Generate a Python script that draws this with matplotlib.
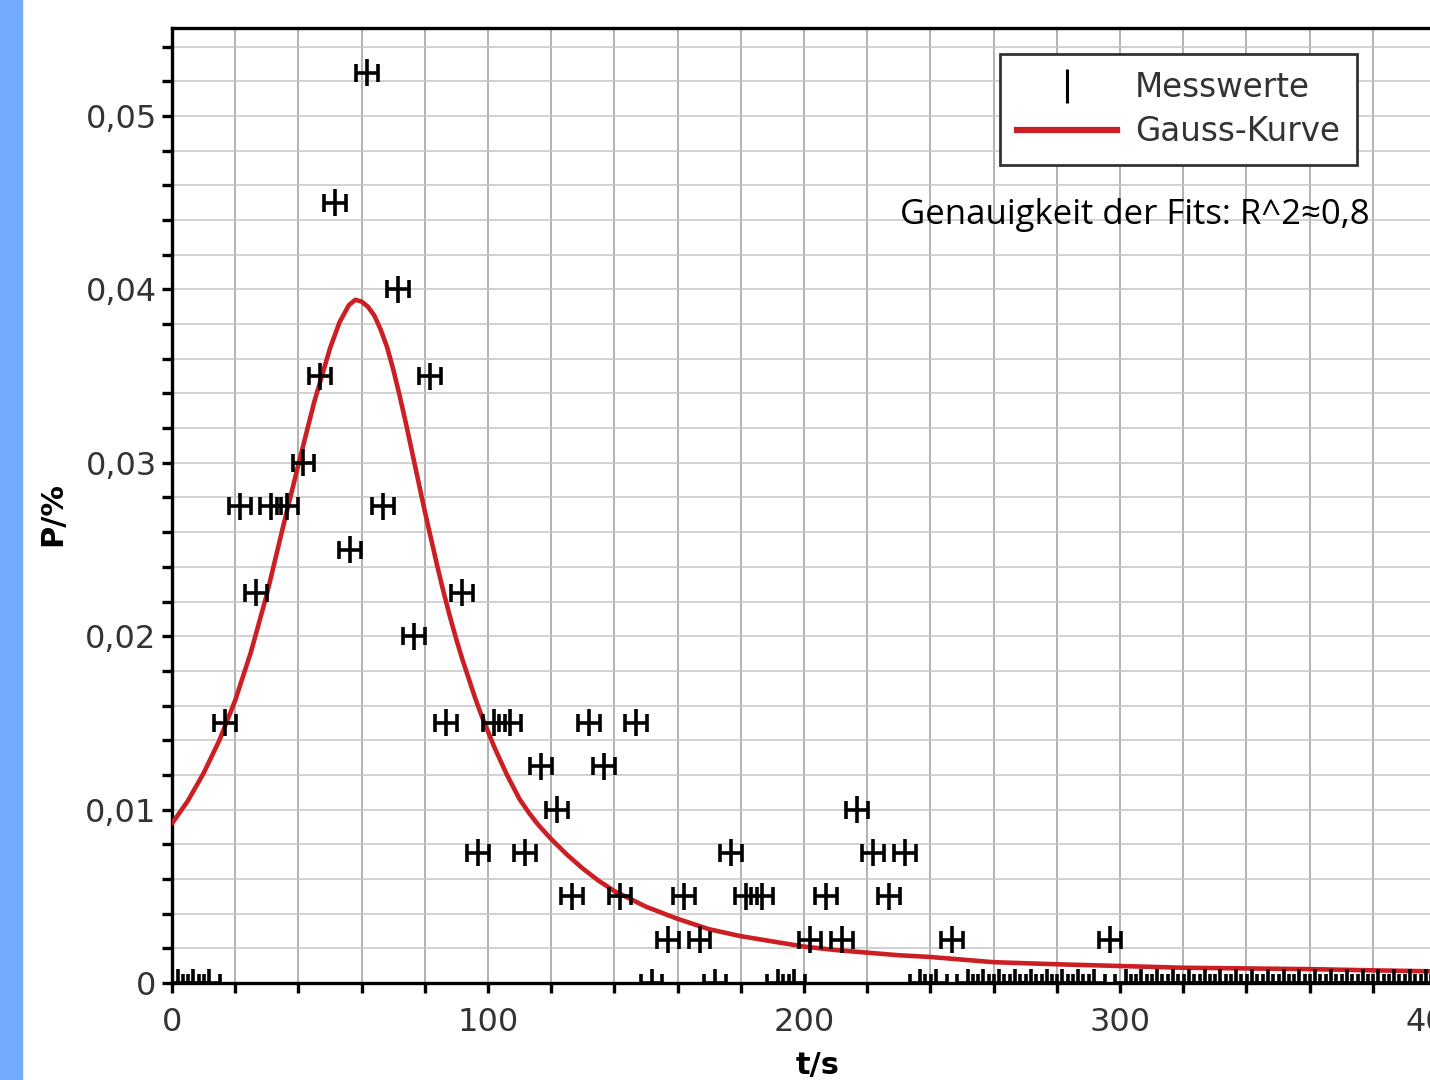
import numpy as np
import matplotlib
matplotlib.use("Agg")
import matplotlib.pyplot as plt
from matplotlib.lines import Line2D
from matplotlib.patches import Rectangle
from matplotlib.ticker import MultipleLocator, FuncFormatter

# Messwerte (t in s, P in %)
t_mess = [61.7, 51.6, 71.5, 46.8, 81.6, 41.6, 21.5, 31.2, 36.5, 66.8,
          56.3, 26.6, 91.8, 76.6, 16.8, 86.7, 101.9, 107.0, 132.0, 146.8,
          116.8, 136.7, 121.8, 216.8, 96.8, 111.7, 176.9, 221.8, 232.0, 126.6,
          141.8, 162.0, 181.6, 186.7, 207.0, 226.9, 157.0, 167.0, 201.9, 212.0,
          246.8, 296.8]
p_mess = [0.0525, 0.045, 0.040, 0.035, 0.035, 0.030, 0.0275, 0.0275, 0.0275, 0.0275,
          0.025, 0.0225, 0.0225, 0.020, 0.015, 0.015, 0.015, 0.015, 0.015, 0.015,
          0.0125, 0.0125, 0.010, 0.010, 0.0075, 0.0075, 0.0075, 0.0075, 0.0075, 0.005,
          0.005, 0.005, 0.005, 0.005, 0.005, 0.005, 0.0025, 0.0025, 0.0025, 0.0025,
          0.0025, 0.0025]

# Messwerte mit P = 0
t_null = [1.8, 6.8, 11.8, 151.8, 171.8, 191.8, 196.8,
          236.8, 241.8, 251.8, 256.8, 261.8, 266.8, 271.8, 276.8, 281.8, 286.8,
          291.8, 301.8, 306.8, 311.8, 316.8, 321.8, 326.8, 331.8, 336.8, 341.8,
          346.8, 351.8, 356.8, 361.8, 366.8, 371.8, 376.8, 381.8, 386.8, 391.8,
          396.8, 401.8, 406.8]
p_null = [0.0] * len(t_null)

t_fehler = 3.4
p_fehler = 0.00078

# Gauss-Kurve
t_fit = [0, 5, 10, 15, 20, 25, 30, 35, 40, 45, 50, 53, 56, 58, 60, 62, 64, 66,
         68, 70, 72, 74, 76, 78, 80, 82, 84, 86, 88, 90, 92, 94, 96, 98, 100,
         102, 104, 106, 108, 110, 113, 116, 120, 125, 130, 135, 140, 150, 160,
         170, 180, 190, 200, 210, 220, 230, 240, 260, 280, 300, 320, 340, 360,
         380, 400, 410]
p_fit = [0.0092, 0.0105, 0.0121, 0.0140, 0.0163, 0.0191, 0.0224, 0.0262, 0.0299,
         0.0335, 0.0366, 0.0381, 0.0391, 0.0394, 0.0393, 0.0390, 0.0385, 0.0377,
         0.0367, 0.0354, 0.0339, 0.0323, 0.0306, 0.0289, 0.0272, 0.0256, 0.0240,
         0.0225, 0.0211, 0.0198, 0.0186, 0.0175, 0.0164, 0.0154, 0.0145,
         0.0136, 0.0128, 0.0120, 0.0113, 0.0106, 0.0098, 0.0091, 0.0083, 0.0074,
         0.0066, 0.0059, 0.0053, 0.0044, 0.0037, 0.0031, 0.0027, 0.0024, 0.0021,
         0.0019, 0.00175, 0.0016, 0.0015, 0.0012, 0.00108, 0.00098, 0.00088,
         0.00084, 0.0008, 0.00073, 0.00067, 0.00065]

rot = "#cc1f24"
grau = "#333333"

fig = plt.figure(figsize=(14.3, 10.8), dpi=100)
fig.patches.append(Rectangle((0, 0), 22 / 1430, 1, transform=fig.transFigure,
                             color="#72aaff", zorder=0))

ax = fig.add_axes([172 / 1430, 1 - 983 / 1080, 1288 / 1430, 955 / 1080])
ax.set_xlim(0, 1288 / 3.16)
ax.set_ylim(0, 955 / 17340)

ax.xaxis.set_major_locator(MultipleLocator(20))
ax.yaxis.set_major_locator(MultipleLocator(0.002))
ax.xaxis.set_major_formatter(FuncFormatter(
    lambda v, p: f"{v:.0f}" if abs(v / 100 - round(v / 100)) < 1e-6 else ""))
def yfmt(v, p):
    if abs(v) < 1e-9:
        return "0"
    if abs(v / 0.01 - round(v / 0.01)) < 1e-6:
        return f"{v:.2f}".replace(".", ",")
    return ""
ax.yaxis.set_major_formatter(FuncFormatter(yfmt))

ax.grid(True, axis="x", color="#9c9c9c", lw=1.1)
ax.grid(True, axis="y", color="#c6c6c6", lw=1.1)
ax.set_axisbelow(True)

for s in ax.spines.values():
    s.set_linewidth(2.4)
    s.set_color("black")
ax.tick_params(axis="both", direction="out", length=7, width=2.4, color="black",
               labelsize=23, labelcolor=grau)
ax.tick_params(axis="x", pad=10)
ax.tick_params(axis="y", pad=4)

ax.plot(t_fit, p_fit, color=rot, lw=3.3, zorder=3, solid_joinstyle="round",
        solid_capstyle="round")

for tt, pp in [(t_mess, p_mess), (t_null, p_null)]:
    ax.errorbar(tt, pp, xerr=t_fehler, fmt="none", ecolor="black",
                elinewidth=2.6, capsize=6.5, capthick=2.6, zorder=4)
    ax.errorbar(tt, pp, yerr=p_fehler, fmt="none", ecolor="black",
                elinewidth=2.6, capsize=0, zorder=4)

handles = [Line2D([], [], color="black", marker="|", ls="none", markersize=24, mew=2.2),
           Line2D([], [], color=rot, lw=4.5)]
leg = ax.legend(handles, ["Messwerte", "Gauss-Kurve"], loc="upper left",
                bbox_to_anchor=(1000 / 1430, 1 - 54 / 1080),
                bbox_transform=fig.transFigure, fontsize=23.5, labelcolor=grau,
                fancybox=False, framealpha=1, edgecolor="#333333",
                borderpad=0.52, handlelength=3.07, handletextpad=0.55,
                labelspacing=0.34, borderaxespad=0)
leg.get_frame().set_linewidth(2)

fig.text(900 / 1430, 1 - 215 / 1080, "Genauigkeit der Fits: R^2≈0,8",
         family=["Open Sans", "DejaVu Sans"], fontsize=25, color="black",
         ha="left", va="center")

fig.text(53 / 1430, 1 - 514 / 1080, "P/%", rotation=90, fontsize=22,
         fontweight="bold", ha="center", va="center")
fig.text(818 / 1430, 1 - 1051 / 1080, "t/s", fontsize=22, fontweight="bold",
         ha="center", va="top")

fig.savefig("out.png", dpi=100)
